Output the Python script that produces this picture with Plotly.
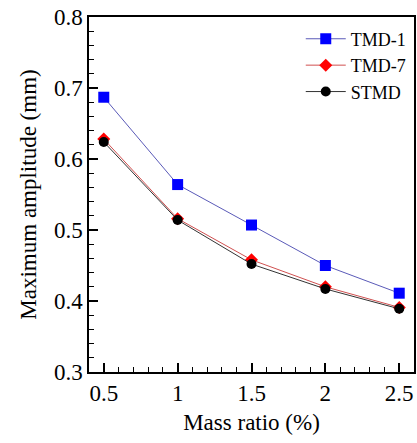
import plotly.graph_objects as go

mass_ratio = [0.5, 1.0, 1.5, 2.0, 2.5]
tmd1 = [0.687, 0.564, 0.507, 0.450, 0.411]
tmd7 = [0.628, 0.516, 0.458, 0.420, 0.391]
stmd = [0.624, 0.514, 0.452, 0.417, 0.389]

x_ticks = [0.5, 1, 1.5, 2, 2.5]
x_tick_labels = ["0.5", "1", "1.5", "2", "2.5"]
y_ticks = [0.3, 0.4, 0.5, 0.6, 0.7, 0.8]
y_tick_labels = ["0.3", "0.4", "0.5", "0.6", "0.7", "0.8"]

font = "'Liberation Serif', Tinos, 'Times New Roman', 'DejaVu Serif', serif"

fig = go.Figure()
fig.add_trace(go.Scatter(x=mass_ratio, y=tmd1, name="TMD-1", mode="lines+markers",
                         line=dict(color="#5a5ab8", width=1),
                         marker=dict(symbol="square", size=11, color="#0000ff", line=dict(width=0))))
fig.add_trace(go.Scatter(x=mass_ratio, y=tmd7, name="TMD-7", mode="lines+markers",
                         line=dict(color="#d05050", width=1),
                         marker=dict(symbol="diamond", size=10, color="#ff0000", line=dict(width=0))))
fig.add_trace(go.Scatter(x=mass_ratio, y=stmd, name="STMD", mode="lines+markers",
                         line=dict(color="#333333", width=1),
                         marker=dict(symbol="circle", size=10, color="#000000", line=dict(width=0))))

fig.update_layout(
    template="none",
    width=417, height=443,
    margin=dict(l=89, r=3, t=17, b=71),
    paper_bgcolor="white", plot_bgcolor="white",
    font=dict(family=font, color="black", size=20),
    showlegend=True,
    legend=dict(x=0.99, y=0.99, xanchor="right", yanchor="top",
                bgcolor="rgba(0,0,0,0)", font=dict(size=18, family=font),
                itemwidth=40, tracegroupgap=0),
    xaxis=dict(range=[0.4, 2.6], tickvals=x_ticks, ticktext=x_tick_labels,
               automargin=False,
               ticks="inside", ticklen=9, tickwidth=1.5, tickcolor="black",
               showline=True, linecolor="black", linewidth=1.5, mirror=True,
               showgrid=False, zeroline=False,
               tickfont=dict(size=23, family=font),
               minor=dict(dtick=0.1, ticks="inside", ticklen=5, tickwidth=1.2, tickcolor="black", showgrid=False),
               title=dict(text="Mass ratio (%)", font=dict(size=23, family=font), standoff=9)),
    yaxis=dict(range=[0.3, 0.8], tickvals=y_ticks, ticktext=y_tick_labels,
               automargin=False,
               ticks="inside", ticklen=9, tickwidth=1.5, tickcolor="black",
               showline=True, linecolor="black", linewidth=1.5, mirror=True,
               showgrid=False, zeroline=False,
               tickfont=dict(size=23, family=font),
               minor=dict(dtick=0.02, ticks="inside", ticklen=5, tickwidth=1.2, tickcolor="black", showgrid=False),
               title=dict(text="Maximum amplitude (mm)", font=dict(size=23, family=font), standoff=11)),
)

fig.write_html("out.html", config={"displayModeBar": False},
               post_script="document.body.style.margin='0px';")
